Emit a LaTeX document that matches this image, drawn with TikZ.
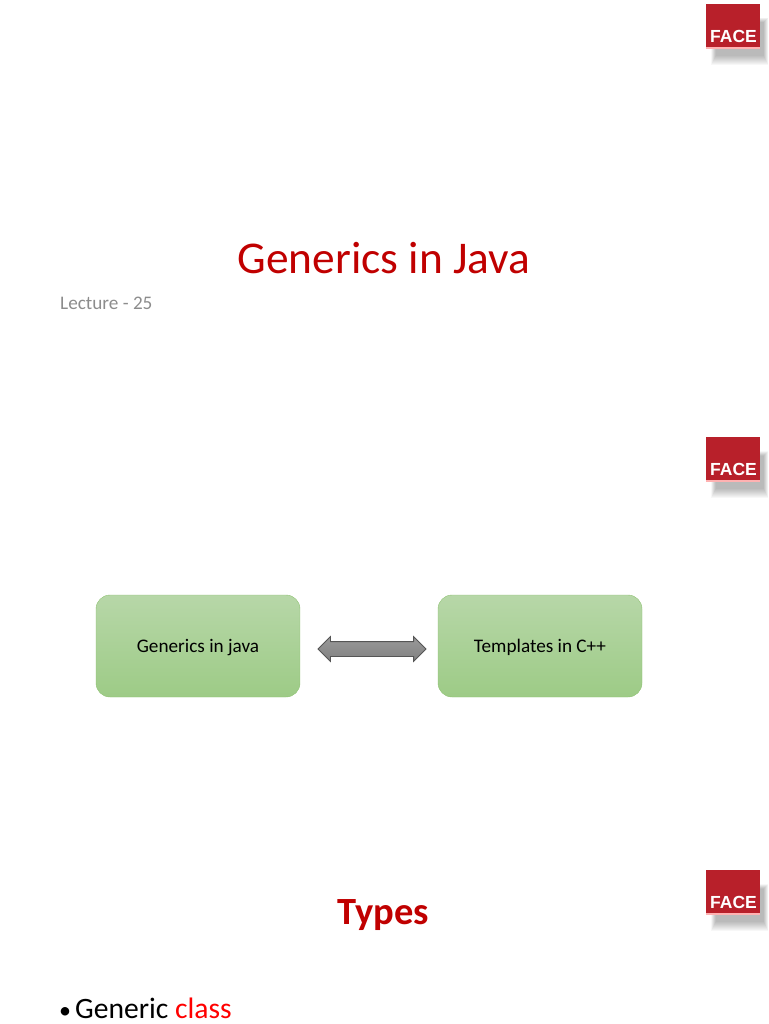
\documentclass[tikz,border=0pt]{standalone}
\usepackage{fontspec}
\setmainfont{Carlito}
\newfontfamily\logofont{Liberation Sans}[Scale=1.0]
\usetikzlibrary{positioning,shapes.arrows}
\definecolor{titlered}{HTML}{C00000}
\definecolor{logored}{HTML}{B8202A}
\definecolor{boxtop}{HTML}{B7D7A8}
\definecolor{boxbot}{HTML}{9DCB86}
\definecolor{boxline}{HTML}{8FC273}
\definecolor{arrowfill}{HTML}{808080}
\definecolor{arrowline}{HTML}{555555}
\tikzset{
  greenbox/.style={draw=boxline,rounded corners=14pt,top color=boxtop,bottom color=boxbot,minimum width=204pt,minimum height=102pt,font=\fontsize{19.2}{22}\selectfont,text=black,text height=17pt,text depth=4pt},
  dblarrow/.style={double arrow,draw=arrowline,top color=arrowfill!80,bottom color=arrowfill,minimum height=108pt,double arrow head extend=5pt,inner xsep=0pt,inner ysep=7pt,line width=0.8pt},
  logobox/.style={fill=logored,minimum width=54pt,minimum height=43pt,inner sep=0pt,anchor=north west},
  logotext/.style={text=white,font=\logofont\bfseries\fontsize{17.5}{17.5}\selectfont,inner sep=0pt},
}
\begin{document}
\begin{tikzpicture}[x=1pt,y=-1pt]
\useasboundingbox (0,0) rectangle (768,1024);
\foreach \logoname/\logoy in {logoa/4,logob/437,logoc/870}{
  \foreach \s in {0,1,...,9}
    \fill[black,opacity=0.03] (711+\s/2,\logoy+14+\s/2) rectangle (768-\s/2,\logoy+61-\s);
  \fill[white] (706,\logoy) rectangle (760,\logoy+44);
  \node[logobox] (\logoname) at (706,\logoy) {};
  \node[logotext] (\logoname txt) at (733.5,\logoy+32.5) {FACE};
  \fill[red!30!white] (\logoname.south west) rectangle ([yshift=-1.5pt]\logoname.south east);
}
\node[text=titlered,font=\fontsize{45.4}{54}\selectfont] (title) at (384,258) {Generics in Java};
\node[text=black!45,font=\fontsize{19.2}{23}\selectfont,anchor=west,inner sep=0pt] (lecture) at (60,303) {Lecture - 25};
\node[greenbox] (gen) at (198,646) {Generics in java};
\node[greenbox] (tmpl) at (540,646) {Templates in C++};
\path (gen) -- node[dblarrow,xshift=3pt,yshift=-3pt] (link) {} (tmpl);
\node[text=titlered,font=\bfseries\fontsize{38.5}{46}\selectfont] (types) at (383,915) {Types};
\node[anchor=west,inner sep=0pt,font=\fontsize{29.6}{34}\selectfont] (item) at (59,1008) {{\fontsize{24}{24}\selectfont\textbullet}\kern4pt Generic \textcolor{red}{class}};
\end{tikzpicture}
\end{document}
